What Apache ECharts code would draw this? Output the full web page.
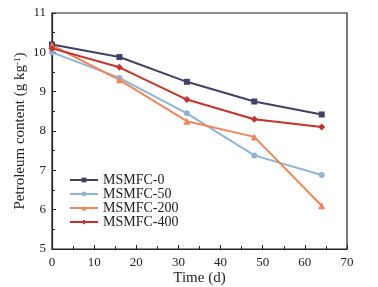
<!DOCTYPE html>
<html>
<head>
<meta charset="utf-8">
<script src="https://cdn.jsdelivr.net/npm/echarts@6/dist/echarts.min.js"></script>
<style>
  html, body { margin: 0; padding: 0; background: #fff; }
  #main { width: 378px; height: 287px; }
</style>
</head>
<body>
<div id="main"></div>
<script>
var days = [0, 16, 32, 48, 64];
var msmfc0 = [10.2, 9.88, 9.25, 8.75, 8.42];
var msmfc50 = [10.0, 9.35, 8.45, 7.38, 6.88];
var msmfc200 = [10.18, 9.3, 8.25, 7.85, 6.1];
var msmfc400 = [10.1, 9.62, 8.8, 8.3, 8.1];
var seriesNames = ['MSMFC-0', 'MSMFC-50', 'MSMFC-200', 'MSMFC-400'];

function pairs(vals) {
  return days.map(function (d, i) { return [d, vals[i]]; });
}

var chart = echarts.init(document.getElementById('main'));
var font = 'Liberation Serif';

function line(name, vals, color, symbol, size) {
  return {
    name: name,
    type: 'line',
    data: pairs(vals),
    symbol: symbol,
    symbolSize: size,
    lineStyle: { color: color, width: 2 },
    itemStyle: { color: color },
    animation: false
  };
}

var axisCommon = {
  axisLine: { lineStyle: { color: '#222', width: 1.2 } },
  axisTick: { inside: true, length: 4, lineStyle: { color: '#222' } },
  minorTick: { show: true, splitNumber: 2, length: 3, lineStyle: { color: '#222' } },
  splitLine: { show: false },
  nameMoveOverlap: false
};

option = {
  grid: {
    left: 52, right: 31, top: 13, bottom: 38,
    outerBoundsMode: 'none',
    show: true, borderColor: '#222', borderWidth: 1.2
  },
  legend: {
    data: seriesNames,
    orient: 'vertical',
    left: 64,
    top: 168,
    itemWidth: 28,
    itemHeight: 6,
    itemGap: 0,
    textStyle: { fontFamily: font, fontSize: 14, lineHeight: 13, color: '#222' }
  },
  xAxis: Object.assign({
    type: 'value',
    min: 0, max: 70, interval: 10,
    name: 'Time (d)',
    nameLocation: 'middle',
    nameGap: 22,
    nameTextStyle: { fontFamily: font, fontSize: 15, color: '#222' },
    axisLabel: { color: '#222', fontFamily: font, fontSize: 13, margin: 7 }
  }, axisCommon),
  yAxis: Object.assign({
    type: 'value',
    min: 5, max: 11, interval: 1,
    name: '{a|Petroleum content (g kg}{s|-1}{a|)}',
    nameLocation: 'middle',
    nameGap: 24,
    nameRotate: 90,
    nameTextStyle: {
      rich: {
        a: { fontFamily: font, fontSize: 15, color: '#222' },
        s: { fontFamily: font, fontSize: 9, color: '#222', verticalAlign: 'top', padding: [0, 0, 6, 0] }
      }
    },
    axisLabel: { color: '#222', fontFamily: font, fontSize: 13, margin: 6 }
  }, axisCommon),
  series: [
    line('MSMFC-0', msmfc0, '#3f4266', 'rect', 6),
    line('MSMFC-50', msmfc50, '#8fb4d6', 'circle', 6),
    line('MSMFC-200', msmfc200, '#f4845a', 'triangle', 7),
    line('MSMFC-400', msmfc400, '#c6312b', 'diamond', 7)
  ]
};

chart.setOption(option);
</script>
</body>
</html>
